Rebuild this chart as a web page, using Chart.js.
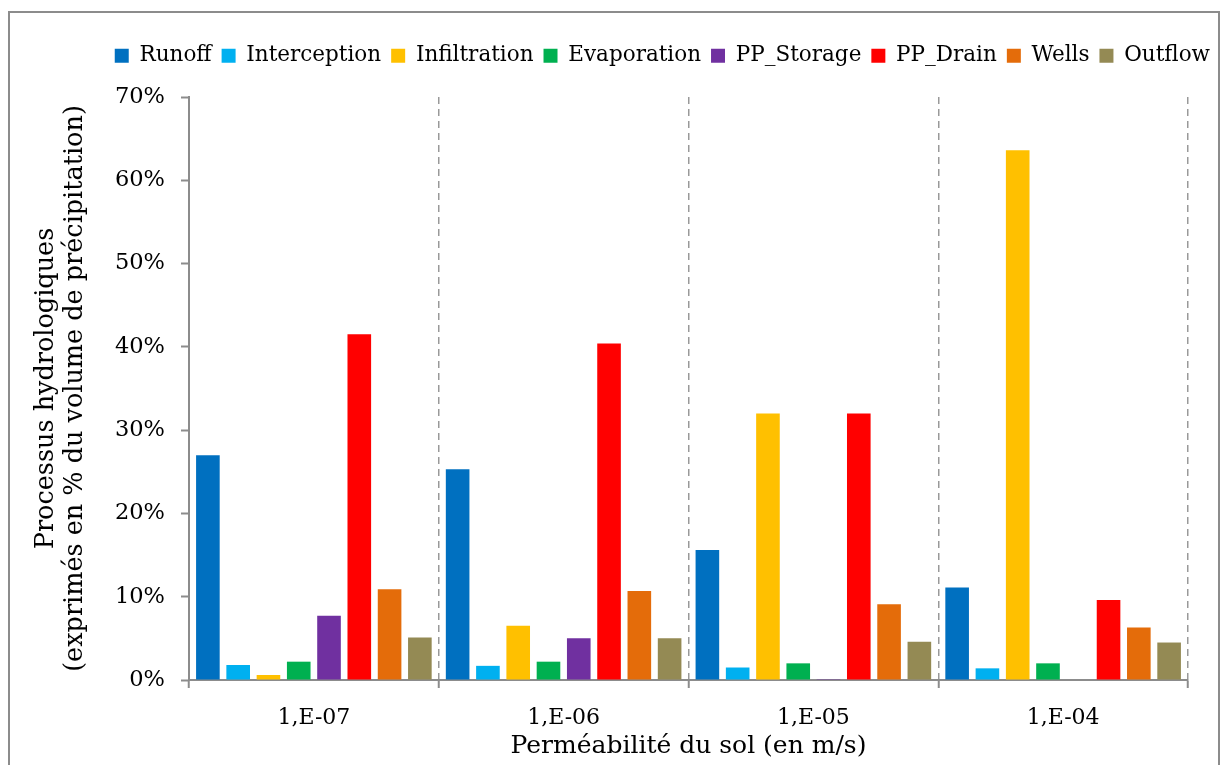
<!DOCTYPE html>
<html>
<head>
<meta charset="utf-8">
<script src="https://cdn.jsdelivr.net/npm/chart.js@4.4.1/dist/chart.umd.min.js"></script>
<style>
html,body{margin:0;padding:0;background:#fff;}
#wrap{width:1227px;height:765px;position:relative;}
</style>
</head>
<body>
<div id="wrap"><canvas id="c" width="1227" height="765"></canvas></div>
<script>
const categories = ['1,E-07', '1,E-06', '1,E-05', '1,E-04'];
const runoff       = [27.0, 25.3, 15.6, 11.1];
const interception = [1.8, 1.7, 1.5, 1.4];
const infiltration = [0.6, 6.5, 32.0, 63.6];
const evaporation  = [2.2, 2.2, 2.0, 2.0];
const ppStorage    = [7.7, 5.0, 0.1, 0];
const ppDrain      = [41.5, 40.4, 32.0, 9.6];
const wells        = [10.9, 10.7, 9.1, 6.3];
const outflow      = [5.1, 5.0, 4.6, 4.5];
const yTickLabels  = ['0%', '10%', '20%', '30%', '40%', '50%', '60%', '70%'];

const seriesNames  = ['Runoff', 'Interception', 'Infiltration', 'Evaporation', 'PP_Storage', 'PP_Drain', 'Wells', 'Outflow'];
const seriesData   = [runoff, interception, infiltration, evaporation, ppStorage, ppDrain, wells, outflow];
const seriesColors = ['#0070C0', '#00B0F0', '#FFC000', '#00B050', '#7030A0', '#FF0000', '#E46C0A', '#948A54'];

const FONT = "'DejaVu Serif', serif";
const GRAY = '#8c8c8c';

const framePlugin = {
  id: 'frame',
  afterInit(chart) {
    const lg = chart.legend;
    if (lg) {
      const orig = lg.fit.bind(lg);
      lg.fit = function () { orig(); this.height = 62; };
    }
  },
  afterDraw(chart) {
    const ctx = chart.ctx;
    ctx.save();
    ctx.strokeStyle = GRAY;
    ctx.lineWidth = 2;
    ctx.beginPath();
    ctx.moveTo(9, 766);
    ctx.lineTo(9, 12);
    ctx.lineTo(1219, 12);
    ctx.lineTo(1219, 766);
    ctx.stroke();
    ctx.restore();
  }
};

new Chart(document.getElementById('c'), {
  type: 'bar',
  data: {
    labels: categories,
    datasets: seriesNames.map((n, i) => ({
      label: n,
      data: seriesData[i],
      backgroundColor: seriesColors[i],
      borderWidth: 0,
      categoryPercentage: 0.97,
      barPercentage: 0.78
    }))
  },
  options: {
    responsive: false,
    animation: false,
    devicePixelRatio: 1,
    layout: { padding: { top: 35, left: 0, right: 7, bottom: 0 } },
    plugins: {
      tooltip: { enabled: false },
      legend: {
        position: 'top',
        align: 'end',
        labels: {
          boxWidth: 14,
          boxHeight: 14,
          padding: 10,
          color: '#000',
          font: { family: FONT, size: 21.5 }
        }
      }
    },
    scales: {
      x: {
        grid: {
          display: true,
          offset: true,
          drawOnChartArea: true,
          drawTicks: true,
          color: '#999',
          lineWidth: 1.5,
          tickLength: 8,
          tickColor: GRAY,
          tickWidth: 2
        },
        border: { display: true, color: GRAY, width: 2, dash: [7, 5] },
        ticks: { color: '#000', padding: 17, font: { family: FONT, size: 22 } },
        title: {
          display: true,
          text: 'Perméabilité du sol (en m/s)',
          color: '#000',
          font: { family: FONT, size: 25, lineHeight: 1.1 },
          padding: { top: 0, bottom: 5 }
        },
        afterFit(s) { s.height = 85; }
      },
      y: {
        min: 0,
        max: 70,
        grid: {
          drawOnChartArea: false,
          drawTicks: true,
          tickLength: 8,
          tickColor: GRAY,
          tickWidth: 2
        },
        border: { display: true, color: GRAY, width: 2 },
        ticks: {
          stepSize: 10,
          color: '#000',
          padding: 16,
          font: { family: FONT, size: 22.5 },
          callback: (v, i) => yTickLabels[i]
        },
        title: {
          display: true,
          text: ['Processus hydrologiques', '(exprimés en % du volume de précipitation)'],
          color: '#000',
          font: { family: FONT, size: 25.5, lineHeight: 1.14 },
          padding: { top: 32, bottom: 0 }
        },
        afterFit(s) { s.width = 189; }
      },
      y2: {
        position: 'right',
        display: true,
        grid: { display: false, drawTicks: false },
        border: { display: false },
        ticks: { display: false },
        afterFit(s) { s.width = 32; }
      }
    }
  },
  plugins: [framePlugin]
});
</script>
</body>
</html>
